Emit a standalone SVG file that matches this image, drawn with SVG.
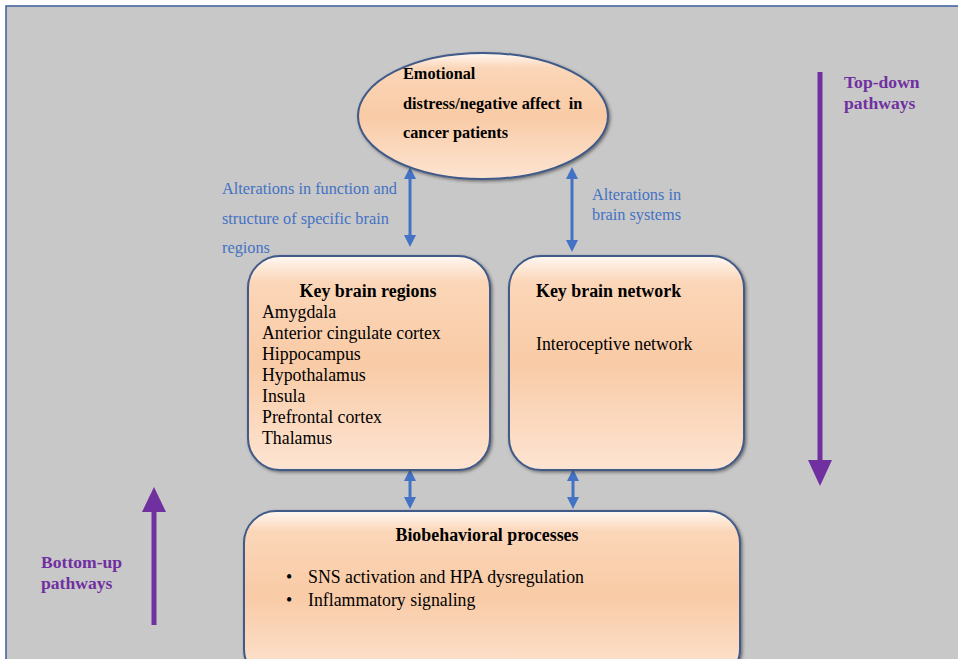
<svg xmlns="http://www.w3.org/2000/svg" width="958" height="659" viewBox="0 0 958 659">
<style>
.t{font-family:"Liberation Serif","Times New Roman",serif;fill:#000}
.b{font-weight:bold}
.blue{font-family:"Liberation Serif","Times New Roman",serif;fill:#4472c4;font-size:16.3px}
.pur{font-family:"Liberation Serif","Times New Roman",serif;fill:#7030a0;font-size:17.6px;font-weight:bold}
.node{fill:url(#g);stroke:#3f5a8a;stroke-width:2;filter:url(#sh)}
.con{stroke:#4472c4;stroke-width:3;fill:none;marker-start:url(#ab);marker-end:url(#ab)}
</style>
<defs>
<linearGradient id="g" x1="0" y1="0" x2="0" y2="1">
<stop offset="0" stop-color="#fff8f2"/>
<stop offset="0.12" stop-color="#fbd6b8"/>
<stop offset="0.5" stop-color="#f9cba6"/>
<stop offset="1" stop-color="#fde4d2"/>
</linearGradient>
<filter id="sh" x="-10%" y="-10%" width="120%" height="120%">
<feDropShadow dx="1.5" dy="1.5" stdDeviation="1.5" flood-color="#333" flood-opacity="0.6"/>
</filter>
<marker id="ab" viewBox="0 0 10 10" refX="5" refY="5" markerWidth="4" markerHeight="4" orient="auto-start-reverse">
<path d="M0,0 L10,5 L0,10 z" fill="#4472c4"/>
</marker>
</defs>
<rect width="958" height="659" fill="#fff"/>
<rect x="6" y="6" width="960" height="660" fill="#c8c8c8" stroke="#3a5c9e" stroke-width="1.5"/>

<g id="connectors">
<line class="con" x1="410" y1="173" x2="410" y2="241"/>
<line class="con" x1="572" y1="173" x2="572" y2="246"/>
<line class="con" x1="410" y1="475" x2="410" y2="503"/>
<line class="con" x1="573" y1="475" x2="573" y2="503"/>
<g id="topdown">
<line x1="820" y1="72" x2="820" y2="462" stroke="#7030a0" stroke-width="5"/>
<polygon points="808,460 832,460 820,486" fill="#7030a0"/>
</g>
<g id="bottomup">
<line x1="154" y1="625" x2="154" y2="510" stroke="#7030a0" stroke-width="5"/>
<polygon points="142,512 166,512 154,487" fill="#7030a0"/>
</g>
</g>

<g id="emotional">
<ellipse class="node" cx="483" cy="116" rx="125" ry="63"/>
<text class="t b" font-size="16.3" x="403" y="79">Emotional</text>
<text class="t b" font-size="16.3" x="403" y="109" xml:space="preserve">distress/negative affect  in</text>
<text class="t b" font-size="16.3" x="403" y="138">cancer patients</text>
</g>

<g id="regions">
<rect class="node" x="248" y="256" width="242" height="214" rx="32"/>
<text class="t b" font-size="17.9" x="368" y="297" text-anchor="middle">Key brain regions</text>
<text class="t" font-size="17.8" x="262" y="318">Amygdala</text>
<text class="t" font-size="17.8" x="262" y="339">Anterior cingulate cortex</text>
<text class="t" font-size="17.8" x="262" y="360">Hippocampus</text>
<text class="t" font-size="17.8" x="262" y="381">Hypothalamus</text>
<text class="t" font-size="17.8" x="262" y="402">Insula</text>
<text class="t" font-size="17.8" x="262" y="423">Prefrontal cortex</text>
<text class="t" font-size="17.8" x="262" y="444">Thalamus</text>
</g>

<g id="network">
<rect class="node" x="509" y="256" width="235" height="214" rx="32"/>
<text class="t b" font-size="17.9" x="536" y="297">Key brain network</text>
<text class="t" font-size="17.8" x="536" y="350">Interoceptive network</text>
</g>

<g id="bio">
<rect class="node" x="244" y="511" width="496" height="170" rx="32"/>
<text class="t b" font-size="17.9" x="487" y="541" text-anchor="middle">Biobehavioral processes</text>
<text class="t" font-size="17.8" x="286" y="583">•</text>
<text class="t" font-size="17.8" x="308" y="583">SNS activation and HPA dysregulation</text>
<text class="t" font-size="17.8" x="286" y="606">•</text>
<text class="t" font-size="17.8" x="308" y="606">Inflammatory signaling</text>
</g>

<g id="labels">
<text class="blue" x="222" y="194">Alterations in function and</text>
<text class="blue" x="222" y="224">structure of specific brain</text>
<text class="blue" x="222" y="253">regions</text>
<text class="blue" x="592" y="200">Alterations in</text>
<text class="blue" x="592" y="220">brain systems</text>
<text class="pur" x="844" y="88">Top-down</text>
<text class="pur" x="844" y="109">pathways</text>
<text class="pur" x="41" y="568">Bottom-up</text>
<text class="pur" x="41" y="589">pathways</text>
</g>
</svg>
